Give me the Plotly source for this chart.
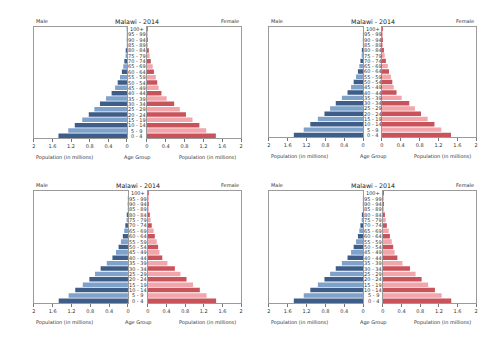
import plotly.graph_objects as go

age_groups = ["0 - 4", "5 - 9", "10 - 14", "15 - 19", "20 - 24", "25 - 29", "30 - 34",
              "35 - 39", "40 - 44", "45 - 49", "50 - 54", "55 - 59", "60 - 64", "65 - 69",
              "70 - 74", "75 - 79", "80 - 84", "85 - 89", "90 - 94", "95 - 99", "100+"]
male = [1.47, 1.26, 1.12, 0.96, 0.82, 0.70, 0.58, 0.45, 0.33, 0.255, 0.20, 0.15, 0.11,
        0.08, 0.057, 0.03, 0.015, 0.005, 0.002, 0.0005, 0.0001]
female = [1.465, 1.26, 1.115, 0.97, 0.83, 0.70, 0.58, 0.42, 0.31, 0.25, 0.22, 0.19, 0.15,
          0.125, 0.084, 0.06, 0.027, 0.01, 0.004, 0.001, 0.0003]
tick_vals = [0, 0.4, 0.8, 1.2, 1.6, 2]
tick_text = ["0", "0.4", "0.8", "1.2", "1.6", "2"]
title_text = "Malawi - 2014"

W, H = 500, 353
MALE_DARK, MALE_LIGHT = "#3e5d88", "#7fa2cb"
FEM_DARK, FEM_LIGHT = "#c8535b", "#f2a6ab"
FRAME = "#9a9a9a"
FONT = "DejaVu Sans"

male_colors = [MALE_DARK if i % 2 == 0 else MALE_LIGHT for i in range(len(age_groups))]
fem_colors = [FEM_DARK if i % 2 == 0 else FEM_LIGHT for i in range(len(age_groups))]

panels = [
    dict(mx0=32, mx1=126, fx0=146, fx1=241, y0=27, y1=138),
    dict(mx0=269, mx1=364, fx0=383, fx1=478, y0=27, y1=137),
    dict(mx0=32, mx1=127, fx0=147, fx1=241, y0=191, y1=303),
    dict(mx0=269, mx1=364, fx0=384, fx1=478, y0=191, y1=303),
]

fig = go.Figure()
layout = dict(
    width=W, height=H, margin=dict(l=0, r=0, t=0, b=0),
    paper_bgcolor="white", plot_bgcolor="white", showlegend=False,
    bargap=0.16, font=dict(family=FONT, color="#333"),
)
annotations = []

def px(x):
    return x / W

def py(y):
    return 1 - y / H

for i, p in enumerate(panels):
    ax_m = 2 * i + 1
    ax_f = 2 * i + 2
    sm = "" if ax_m == 1 else str(ax_m)
    sf = str(ax_f)
    fig.add_trace(go.Bar(x=male, y=age_groups, orientation="h",
                         marker=dict(color=male_colors, line=dict(width=0)),
                         xaxis="x" + sm, yaxis="y" + sm))
    fig.add_trace(go.Bar(x=female, y=age_groups, orientation="h",
                         marker=dict(color=fem_colors, line=dict(width=0)),
                         xaxis="x" + sf, yaxis="y" + sf))
    xcommon = dict(tickvals=tick_vals, ticktext=tick_text, ticks="outside", ticklen=3,
                   tickcolor="#777", tickwidth=1, showgrid=False, zeroline=False,
                   showline=True, linecolor=FRAME, linewidth=1, mirror=True,
                   tickfont=dict(size=5, family=FONT, color="#333"), fixedrange=True)
    ycommon = dict(type="category", categoryorder="array", categoryarray=age_groups,
                   range=[-0.4, 20.4], showticklabels=False, ticks="", showgrid=False,
                   zeroline=False, showline=True, linecolor=FRAME, linewidth=1, mirror=True)
    layout["xaxis" + sm] = dict(xcommon, domain=[px(p["mx0"]), px(p["mx1"])],
                                range=[2, 0], anchor="y" + sm)
    layout["yaxis" + sm] = dict(ycommon, domain=[py(p["y1"]), py(p["y0"])], anchor="x" + sm)
    layout["xaxis" + sf] = dict(xcommon, domain=[px(p["fx0"]), px(p["fx1"])],
                                range=[0, 2], anchor="y" + sf)
    layout["yaxis" + sf] = dict(ycommon, domain=[py(p["y1"]), py(p["y0"])], anchor="x" + sf)

    cx = (p["mx1"] + p["fx0"]) / 2
    for a in age_groups:
        annotations.append(dict(x=px(cx), xref="paper", y=a, yref="y" + sm, text=a,
                                showarrow=False, xanchor="center", yanchor="middle",
                                font=dict(size=5, family=FONT, color="#333")))
    annotations.append(dict(x=px(cx), xref="paper", y=py(p["y0"] - 6), yref="paper",
                            text=title_text, showarrow=False, xanchor="center",
                            yanchor="middle", font=dict(size=6.3, family=FONT, color="#222")))
    annotations.append(dict(x=px(p["mx0"]), xref="paper", y=py(p["y0"] - 6), yref="paper",
                            text="Male", showarrow=False, xanchor="left", yanchor="middle",
                            font=dict(size=5, family=FONT, color="#333")))
    annotations.append(dict(x=px(p["fx1"]), xref="paper", y=py(p["y0"] - 6), yref="paper",
                            text="Female", showarrow=False, xanchor="right", yanchor="middle",
                            font=dict(size=5, family=FONT, color="#333")))
    ty = py(p["y1"] + 19)
    annotations.append(dict(x=px(p["mx0"]), xref="paper", y=ty, yref="paper",
                            text="Population (in millions)", showarrow=False, xanchor="left",
                            yanchor="middle", font=dict(size=5, family=FONT, color="#333")))
    annotations.append(dict(x=px(cx), xref="paper", y=ty, yref="paper",
                            text="Age Group", showarrow=False, xanchor="center",
                            yanchor="middle", font=dict(size=5, family=FONT, color="#333")))
    annotations.append(dict(x=px(p["fx1"] - 3), xref="paper", y=ty, yref="paper",
                            text="Population (in millions)", showarrow=False, xanchor="right",
                            yanchor="middle", font=dict(size=5, family=FONT, color="#333")))

layout["annotations"] = annotations
fig.update_layout(**layout)
fig.write_html("out.html")
